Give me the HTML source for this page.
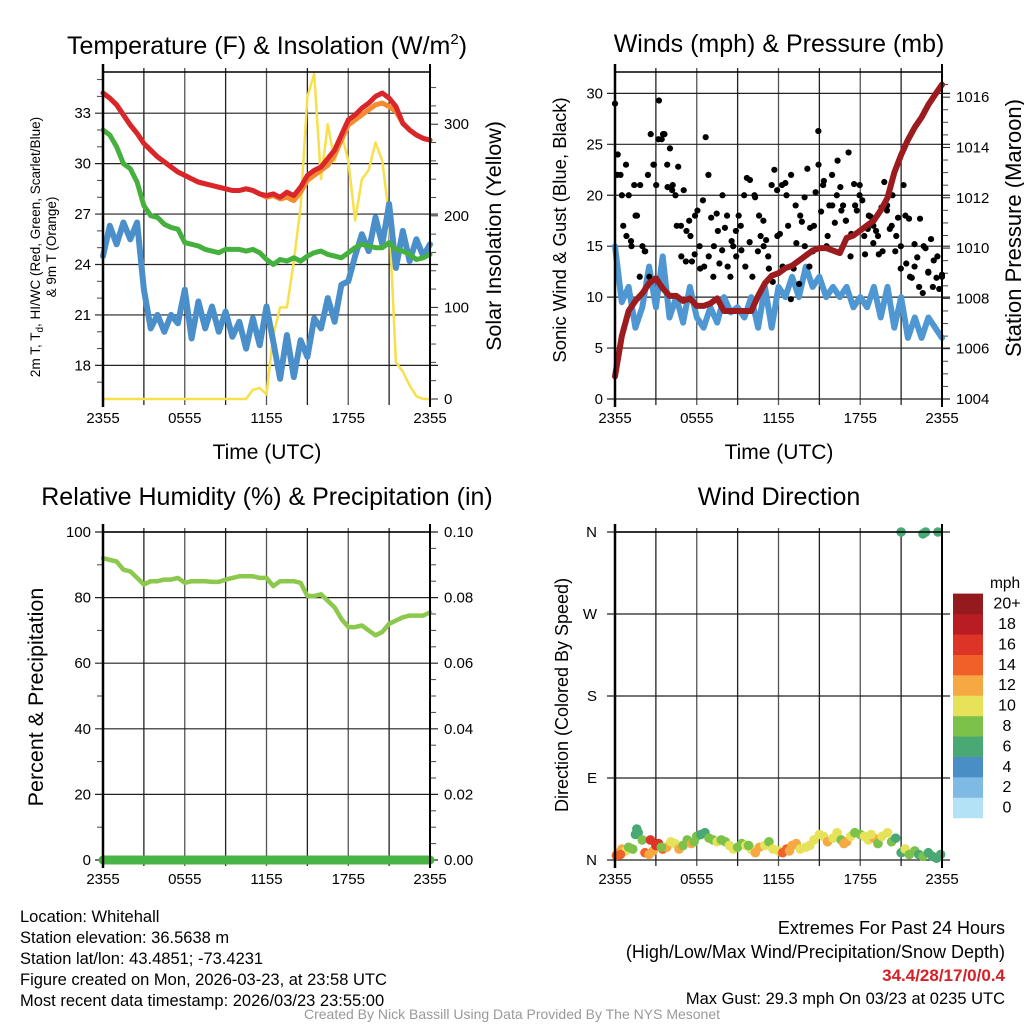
<!DOCTYPE html>
<html><head><meta charset="utf-8">
<style>
html,body{margin:0;padding:0;background:#fff;}
svg{display:block;font-family:"Liberation Sans",Arial,sans-serif;}
</style></head>
<body>
<svg id="fig" width="1024" height="1024" viewBox="0 0 1024 1024" xmlns="http://www.w3.org/2000/svg">
<rect x="0" y="0" width="1024" height="1024" fill="#fff"/>
<text x="267" y="54" font-size="25" text-anchor="middle">Temperature (F) &amp; Insolation (W/m<tspan font-size="15" dy="-10">2</tspan><tspan dy="10">)</tspan></text>
<text x="779" y="52" font-size="25" text-anchor="middle">Winds (mph) &amp; Pressure (mb)</text>
<text x="267" y="505" font-size="25" text-anchor="middle">Relative Humidity (%) &amp; Precipitation (in)</text>
<text x="779" y="505" font-size="25" text-anchor="middle">Wind Direction</text>

<text x="267" y="459" font-size="21" text-anchor="middle">Time (UTC)</text>
<text x="779" y="459" font-size="21" text-anchor="middle">Time (UTC)</text>

<text transform="translate(40,247) rotate(-90)" font-size="13.5" text-anchor="middle"><tspan x="0" dy="0">2m T, T<tspan font-size="10" dy="3">d</tspan><tspan dy="-3">, HI/WC (Red, Green, Scarlet/Blue)</tspan></tspan><tspan x="0" dy="16">&amp; 9m T (Orange)</tspan></text>
<text transform="translate(501,236) rotate(-90)" font-size="21.5" text-anchor="middle">Solar Insolation (Yellow)</text>
<text transform="translate(566,230) rotate(-90)" font-size="18.5" text-anchor="middle">Sonic Wind &amp; Gust (Blue, Black)</text>
<text transform="translate(1021,228) rotate(-90)" font-size="22" text-anchor="middle">Station Pressure (Maroon)</text>
<text transform="translate(43,697) rotate(-90)" font-size="21.5" text-anchor="middle">Percent &amp; Precipitation</text>
<text transform="translate(568,695) rotate(-90)" font-size="18" text-anchor="middle">Direction (Colored By Speed)</text>

<g font-size="16.5">
<text x="20" y="922">Location: Whitehall</text>
<text x="20" y="943">Station elevation: 36.5638 m</text>
<text x="20" y="964">Station lat/lon: 43.4851; -73.4231</text>
<text x="20" y="985">Figure created on Mon, 2026-03-23, at 23:58 UTC</text>
<text x="20" y="1006">Most recent data timestamp: 2026/03/23 23:55:00</text>
</g>
<g font-size="18" text-anchor="end">
<text x="1005" y="934">Extremes For Past 24 Hours</text>
<text x="1005" y="958">(High/Low/Max Wind/Precipitation/Snow Depth)</text>
<text x="1005" y="981" fill="#d62027" font-weight="bold" font-size="17">34.4/28/17/0/0.4</text>
<text x="1005" y="1004" font-size="16.5">Max Gust: 29.3 mph On 03/23 at 0235 UTC</text>
</g>
<text x="512" y="1019" font-size="14" fill="#999" text-anchor="middle">Created By Nick Bassill Using Data Provided By The NYS Mesonet</text>
<g id="plots"></g>
</svg>
<script>
// ---- data (half-hourly, 2355 -> 2355) ----
const xTickLabels = ["2355","0555","1155","1755","2355"];
const tempTicks = [18,21,24,27,30,33];
const solarTicks = [0,100,200,300];
const windTicks = [0,5,10,15,20,25,30];
const pressTicks = [1004,1006,1008,1010,1012,1014,1016];
const rhTicks = [0,20,40,60,80,100];
const precipTickLabels = ["0.00","0.02","0.04","0.06","0.08","0.10"];
const dirTickLabels = ["N","E","S","W","N"];
const airTemp = [34.2,33.9,33.5,32.9,32.3,31.8,31.2,30.8,30.4,30.1,29.8,29.5,29.3,29.1,28.9,28.8,28.7,28.6,28.5,28.4,28.4,28.5,28.4,28.2,28.1,28.2,28.0,28.3,28.1,28.6,29.3,29.6,29.8,30.3,30.8,31.7,32.6,32.9,33.3,33.6,34.0,34.2,33.9,33.4,32.4,32.0,31.7,31.5,31.4];
const temp9m = [34.2,33.9,33.5,32.9,32.3,31.8,31.2,30.8,30.4,30.1,29.8,29.5,29.3,29.1,28.9,28.8,28.7,28.6,28.5,28.4,28.4,28.5,28.4,28.2,28.0,28.1,27.9,28.0,27.8,28.3,29.0,29.3,29.6,29.9,30.5,31.4,32.3,32.6,32.9,33.2,33.5,33.6,33.4,33.1,32.4,32.0,31.7,31.5,31.4];
const dewPoint = [32.0,31.7,31.0,30.0,29.7,28.9,27.5,26.9,26.8,26.4,26.2,26.1,25.3,25.2,25.1,24.9,24.8,24.7,24.9,24.9,24.9,24.8,24.9,24.7,24.3,24.0,24.3,24.2,24.4,24.2,24.5,24.7,24.8,24.6,24.5,24.4,24.7,25.0,25.2,25.1,25.0,25.0,25.3,24.9,24.8,24.6,24.3,24.4,24.6];
const windChill = [24.5,26.3,25.2,26.5,25.5,26.5,22.5,20.2,21.0,20.0,21.0,20.5,22.5,19.6,21.8,20.2,21.5,20.0,21.2,19.7,20.6,19.0,20.8,19.2,21.5,19.4,17.2,19.8,17.3,19.5,18.5,20.8,20.2,22.0,20.6,22.8,23.0,24.5,25.8,24.8,26.8,25.2,27.6,23.8,26.0,24.2,25.5,24.5,25.2];
const solar = [0,0,0,0,0,0,0,0,0,0,0,0,0,0,0,0,0,0,0,0,0,0,10,12,5,70,100,100,150,210,330,355,240,300,260,290,260,195,240,250,280,260,200,40,30,15,3,0,0];
const sonicWind = [15,9.5,11,7,9,13,9,14,8,10,7.5,11,8,7,9,7.5,10,8.5,9,8,10,7,11,7,11,10,12,10,13,11,12,10,11,10,11,9,10,9,11,8,11,7,10,6,8,6,8,7,6];
const gust = [29,24,22,17,23,20,15,21,18,12,15,14.5,22,26,23,21,29.3,25.5,26,23,24.6,21,20,22.8,17,20.5,16.5,17.5,13.5,14.2,18.5,12.8,19.5,25.7,22,17.8,15,18.2,13.3,14.6,16.8,13,12,15,16.5,18,14.6,20,21.7,15.4,12,19.8,14.5,16,17.5,15.6,12.8,21,22.5,20.5,16.2,13,21.2,17,9.8,12.8,15.3,11.3,17.4,19.8,22.6,16.8,14.5,20.3,26.3,18.4,21.4,15,19,22,17.3,23.4,20.8,19,17.5,24.2,16.2,21.1,18.5,20,19.5,14.2,16.7,17.9,15.3,16.5,14.2,18.8,21.3,18.5,16.7,20,14.5,17.8,12.8,21,13.3,17.7,11.9,15.2,13.9,17.7,10.4,14.8,12.4,15.7,13.6,11.9,10.8,12.2];
const gust2 = [22,20,16,15.5,18,21,14.5,12,23,25.5,26,20.8,20.5,17,14,13.5,16,18,15,13,14,12,16.5,20,18,15.5,14,17,13,21.5,20,18,15,14,11.5,16,21,20,22,19,18,15,13,17,23,21,16,19,20,18.5,17.5,14,19,21,16,18,17,16,14.5,19,17,16,15,18,12,13,11,15,12.5,11,14,12];
const pressure = [1004.9,1006.5,1007.5,1007.9,1008.2,1008.6,1008.8,1008.4,1008.1,1008.1,1007.9,1008.0,1007.7,1007.7,1007.8,1008.0,1007.5,1007.5,1007.5,1007.5,1007.5,1008.1,1008.6,1008.9,1009.0,1009.2,1009.3,1009.5,1009.7,1009.9,1010.0,1010.0,1009.9,1009.8,1010.4,1010.5,1010.7,1010.9,1011.1,1011.5,1012.0,1013.0,1013.7,1014.3,1014.8,1015.2,1015.7,1016.1,1016.5];
const relHum = [92,91.5,91,88.5,88,86,84,85,85,85.5,85.5,86,84.5,85,85,85,84.8,84.8,85.5,86,86.5,86.5,86.5,86,86,83.5,85,85,85,84.5,80.5,80.5,81,79,77,73.5,71,71,71.5,70,68.5,69.5,72,73,74,74.5,74.5,74.5,75.5];
const precip = [0,0,0,0,0,0,0,0,0,0,0,0,0,0,0,0,0,0,0,0,0,0,0,0,0,0,0,0,0,0,0,0,0,0,0,0,0,0,0,0,0,0,0,0,0,0,0,0,0];
const dirTime = [0.1,0.3,0.5,0.8,1.0,1.3,1.5,1.7,2.0,2.2,2.5,2.8,3.0,3.2,3.5,3.8,4.1,4.4,4.7,5.0,5.3,5.6,6.0,6.3,6.6,6.9,7.2,7.5,7.8,8.1,8.4,8.7,9.0,9.3,9.6,10.0,10.3,10.6,11.0,11.3,11.6,12.0,12.3,12.6,13.0,13.3,13.6,14.0,14.3,14.6,15.0,15.3,15.6,16.0,16.3,16.6,17.0,17.3,17.6,18.0,18.3,18.6,19.0,19.3,19.6,20.0,20.3,20.6,21.0,21.3,21.6,22.0,22.3,22.6,23.0,23.3,23.6,23.9,21.0,22.6,22.8,23.7,0.4,1.6,2.6,3.4,5.8,9.8,12.8,16.8,18.8];
const dirDeg = [5,8,12,10,14,12,28,30,22,8,6,10,16,18,12,14,20,18,12,16,22,18,26,28,30,24,22,20,22,20,16,12,14,18,16,12,8,14,16,20,12,10,8,12,16,18,12,14,16,22,28,26,20,24,30,22,20,26,30,28,26,22,24,18,26,30,20,24,8,12,6,10,6,4,8,4,2,6,360,358,360,360,6,34,22,14,20,16,10,18,28];
const dirSpd = [14,13,12,10,8,9,6,6,8,14,12,13,17,16,14,12,10,11,12,9,8,12,8,7,6,8,9,10,8,9,10,11,8,9,10,10,13,12,11,9,10,11,15,14,13,12,11,10,11,10,11,10,12,11,10,9,12,10,8,9,11,10,12,8,11,10,9,7,7,10,8,9,7,8,6,7,6,6,6,6,6,6,14,6,16,9,8,8,12,12,10];
const speedColors = ["#b3e1f6","#7fbae4","#4a8ec6","#49a874","#7cc24a","#e6e25a","#f6a843","#ef6128","#dc3427","#ba1c24","#941a1e"];
const legendLabels = ["0","2","4","6","8","10","12","14","16","18","20+"];

// ---- geometry ----
const NS = "http://www.w3.org/2000/svg";
const root = document.getElementById("plots");
function mk(tag, attrs, parent) {
  const e = document.createElementNS(NS, tag);
  for (const k in attrs) e.setAttribute(k, attrs[k]);
  (parent || root).appendChild(e);
  return e;
}
const L = {x0:103, x1:430}, R = {x0:615, x1:942};
const T = {y0:72, y1:399}, B = {y0:532, y1:860};
function xScale(p, h) { return p.x0 + (h/24)*(p.x1-p.x0); }
function lin(d0,d1,r0,r1){ return v => r0 + (v-d0)/(d1-d0)*(r1-r0); }
const yTemp = lin(16.0,35.45,T.y1,T.y0);
const ySolar = lin(0,357,T.y1,T.y0);
const yWind = lin(0,32.1,T.y1,T.y0);
const yPress = lin(1004,1017.0,T.y1,T.y0);
const yRH = lin(0,100,B.y1,B.y0);
const yPrecip = lin(0,0.1,B.y1,B.y0);
const yDir = lin(0,360,B.y1,B.y0);

function frame(p, py, name) {
  const g = mk("g", {});
  
  
  for (let i=0;i<=8;i++){
    const x = p.x0 + i*(p.x1-p.x0)/8;
    const l = mk("line",{x1:x,x2:x,y1:py.y0-4,y2:py.y1+6,stroke:(i%2? "#222":"#555"),"stroke-width":1.3},g);
    
    
  }
  xTickLabels.forEach((t,i)=>{
    const x = p.x0 + i*(p.x1-p.x0)/4;
    const tx = mk("text",{x:x,y:py.y1+24,"font-size":15,"text-anchor":"middle"},g);
    tx.textContent = t;
    
    
  });
  return g;
}
function hline(g,p,y){
  const l = mk("line",{x1:p.x0-8,x2:p.x1+8,y1:y,y2:y,stroke:"#222","stroke-width":1.2},g);
  
  
}
function label(g,x,y,txt,anchor,name,size){
  const t = mk("text",{x:x,y:y+5,"font-size":size||15,"text-anchor":anchor},g);
  t.textContent = txt;
  
  
}
function minor(g,x,y,dir){
  mk("line",{x1:x,x2:x+dir*6,y1:y,y2:y,stroke:"#444","stroke-width":1},g);
}
function border(g,p,py){
  mk("line",{x1:p.x0,x2:p.x0,y1:py.y0-8,y2:py.y1+8,stroke:"#000","stroke-width":2.5},g);
  mk("line",{x1:p.x1,x2:p.x1,y1:py.y0-8,y2:py.y1+8,stroke:"#000","stroke-width":2},g);
  mk("line",{x1:p.x0,x2:p.x1,y1:py.y0,y2:py.y0,stroke:"#000","stroke-width":1.6},g);
}
function path(vals, p, ys, color, w, name){
  let d = "";
  vals.forEach((v,i)=>{ d += (i?"L":"M") + xScale(p, i*24/(vals.length-1)).toFixed(1) + "," + ys(v).toFixed(1); });
  const e = mk("path",{d:d,fill:"none",stroke:color,"stroke-width":w,"stroke-linejoin":"round","stroke-linecap":"round"});
  
  
  return e;
}

// ---- Panel 1: temperature ----
const g1 = frame(L,T,"temp");
tempTicks.forEach(v=>{ hline(g1,L,yTemp(v)); label(g1,L.x0-12,yTemp(v),String(v),"end","temp-y-tick-label"); });
for (let v=17; v<=35; v++) if (v%3) minor(g1,L.x0,yTemp(v),-1);
solarTicks.forEach(v=>{ mk("line",{x1:L.x1,x2:L.x1+8,y1:ySolar(v),y2:ySolar(v),stroke:"#222"},g1); label(g1,L.x1+14,ySolar(v),String(v),"start","solar-y-tick-label"); });
for (let v=20; v<=340; v+=20) if (v%100) minor(g1,L.x1,ySolar(v),1);
path(solar,L,ySolar,"#f7e04b",2.5,"solar-line");
path(windChill,L,yTemp,"#4a8fc9",6,"windchill-line");
path(dewPoint,L,yTemp,"#46b03f",5,"dewpoint-line");
path(temp9m,L,yTemp,"#f58b2f",5,"temp-9m-line");
path(airTemp,L,yTemp,"#d8262a",5,"temp-2m-line");
border(mk("g",{}),L,T);

// ---- Panel 2: winds ----
const g2 = frame(R,T,"wind");
windTicks.forEach(v=>{ hline(g2,R,yWind(v)); label(g2,R.x0-12,yWind(v),String(v),"end","wind-y-tick-label"); });
pressTicks.forEach(v=>{ mk("line",{x1:R.x1,x2:R.x1+8,y1:yPress(v),y2:yPress(v),stroke:"#222"},g2); label(g2,R.x1+14,yPress(v),String(v),"start","pressure-y-tick-label"); });
for (let v=1004.5; v<=1016.5; v+=0.5) if (v%2) minor(g2,R.x1,yPress(v),1);
path(sonicWind,R,yWind,"#4f97d2",6,"sonic-wind-line");
const gd = mk("g",{});


[gust,gust2].forEach((arr,k)=>{
  arr.forEach((v,i)=>{
    const h = (i + k*0.5)*24/(arr.length-1 + k*0.5);
    const c = mk("circle",{cx:xScale(R,Math.min(h,24)),cy:yWind(v),r:3.1,fill:"#000"},gd);
    
    
  });
});
path(pressure,R,yPress,"#9b1b1e",6,"pressure-line");
border(mk("g",{}),R,T);

// ---- Panel 3: RH ----
const g3 = frame(L,B,"rh");
rhTicks.forEach((v,i)=>{ hline(g3,L,yRH(v)); label(g3,L.x0-12,yRH(v),String(v),"end","rh-y-tick-label"); label(g3,L.x1+14,yRH(v),precipTickLabels[i],"start","precip-y-tick-label"); });
for (let v=10; v<=90; v+=20) minor(g3,L.x0,yRH(v),-1);
for (let v=5; v<100; v+=5) if (v%20) minor(g3,L.x1,yRH(v),1);
path(relHum,L,yRH,"#8cc84b",4.5,"rh-line");
path(precip,L,yPrecip,"#48b446",9,"precip-line");
border(mk("g",{}),L,B);

// ---- Panel 4: wind direction ----
const g4 = frame(R,B,"winddir");
dirTickLabels.forEach((t,i)=>{ const v=i*90; hline(g4,R,yDir(v)); label(g4,R.x0-18,yDir(v),t,"end","dir-y-tick-label"); });
const gp = mk("g",{});


dirTime.forEach((h,i)=>{
  const ci = Math.min(10, Math.max(0, Math.floor(dirSpd[i]/2)));
  const c = mk("circle",{cx:xScale(R,h),cy:yDir(dirDeg[i]),r:4.8,fill:speedColors[ci]},gp);
  
  
});
border(mk("g",{}),R,B);

// legend
const lg = mk("g",{});


const lt = mk("text",{x:990,y:588,"font-size":15.5},lg);
lt.textContent = "mph";


speedColors.forEach((c,i)=>{
  const y = 818 - (i+1)*20.4;
  const r = mk("rect",{x:953,y:y,width:30,height:20.6,fill:c},lg);
  
  
  label(lg,1007,y+10,legendLabels[i],"middle","legend-label",16);
});
</script>
</body></html>
